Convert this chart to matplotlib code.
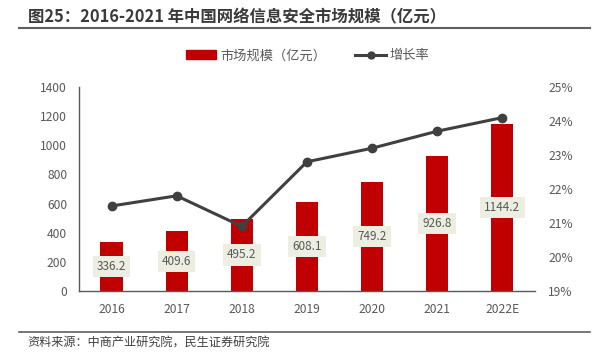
import matplotlib
matplotlib.use("Agg")
import matplotlib.pyplot as plt
from matplotlib.lines import Line2D

plt.rcParams['font.family'] = ['Noto Sans CJK SC', 'DejaVu Sans']

# 数据
years = ["2016", "2017", "2018", "2019", "2020", "2021", "2022E"]
market = [336.2, 409.6, 495.2, 608.1, 749.2, 926.8, 1144.2]
growth = [21.5, 21.8, 20.9, 22.8, 23.2, 23.7, 24.1]

red = "#C00000"
dark = "#404040"
gray = "#595959"

fig = plt.figure(figsize=(6.01, 3.6), dpi=100)
ax = fig.add_axes([0.1314, 0.1917, 0.7586, 0.5666])
x = range(len(years))
bars = ax.bar(x, market, width=0.34, color=red, zorder=2)
ax.set_ylim(0, 1400)
ax.set_yticks(range(0, 1401, 200))
ax.set_xlim(-0.5, len(years) - 0.5)
ax.set_xticks(list(x))
ax.set_xticklabels(years)
for s in ["top", "right"]:
    ax.spines[s].set_visible(False)
ax.spines["left"].set_color(gray)
ax.spines["bottom"].set_color(gray)
ax.spines["left"].set_linewidth(1.0)
ax.spines["bottom"].set_linewidth(1.0)
ax.tick_params(axis="y", length=0, colors=gray, labelsize=8.7, pad=8.5)
ax.tick_params(axis="x", length=0, colors=gray, labelsize=8.7, pad=8.5)

for i, v in enumerate(market):
    ax.text(i, v / 2, f"{v:.1f}", ha="center", va="center", fontsize=8.5, color=gray,
            bbox=dict(boxstyle="square,pad=0.35", fc="#EBEEE0", ec="none"), zorder=4)

ax2 = ax.twinx()
ax2.plot(list(x), growth, color=dark, lw=2.2, marker="o", ms=6, zorder=3)
ax2.set_ylim(19, 25)
ax2.set_yticks(range(19, 26))
ax2.set_yticklabels([f"{t}%" for t in range(19, 26)])
for s in ["top", "right", "left", "bottom"]:
    ax2.spines[s].set_visible(False)
ax2.tick_params(axis="y", length=0, colors=gray, labelsize=8.7, pad=9.5)

# 图例
handles = [plt.Rectangle((0, 0), 1, 1, color=red),
           Line2D([0], [0], color=dark, lw=2.2, marker="o", ms=5)]
fig.legend(handles, ["市场规模（亿元）", "增长率"], loc="center", bbox_to_anchor=(0.512, 0.845),
           ncol=2, frameon=False, fontsize=9.5, labelcolor=gray, handlelength=2.3,
           columnspacing=2.2, handletextpad=0.3)

# 标题与来源
fig.text(0.046, 0.953, "图25：2016-2021 年中国网络信息安全市场规模（亿元）", fontsize=11.8,
         fontweight="bold", color="#3a3a3a", va="center")
fig.add_artist(Line2D([0.032, 0.982], [0.923, 0.923], color="#606060", lw=1.5))
fig.add_artist(Line2D([0.032, 0.982], [0.078, 0.078], color="#606060", lw=1.2))
fig.text(0.046, 0.047, "资料来源：中商产业研究院，民生证券研究院", fontsize=8.7, color="#404040", va="center")

fig.savefig("out.png", dpi=100)
